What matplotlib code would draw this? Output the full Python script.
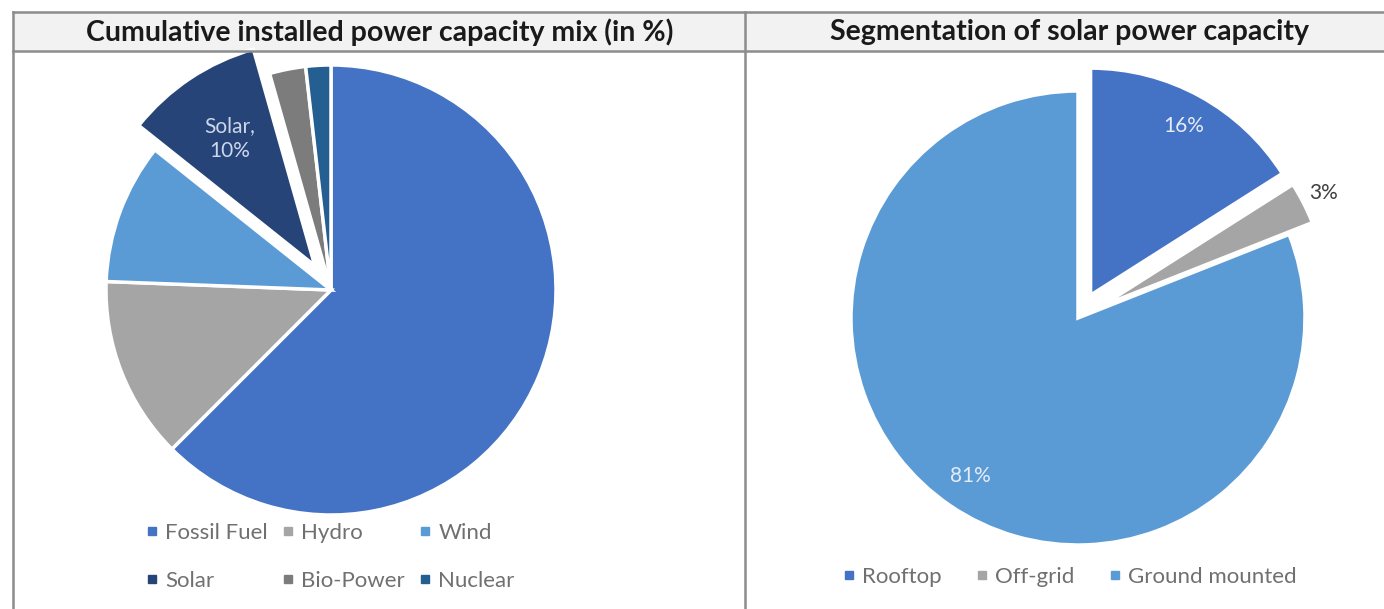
import matplotlib.pyplot as plt
from matplotlib.lines import Line2D
from matplotlib.patches import Rectangle
import numpy as np

# left pie: installed capacity mix (%)
mix_labels = ["Fossil Fuel", "Hydro", "Wind", "Solar", "Bio-Power", "Nuclear"]
mix_values = [62.5, 13.1, 10.1, 9.9, 2.6, 1.8]
mix_colors = ["#4472C4", "#A5A5A5", "#5B9BD5", "#264478", "#7C7C7C", "#255E91"]

# right pie: solar segmentation (%)
solar_labels = ["Rooftop", "Off-grid", "Ground mounted"]
solar_values = [16, 3, 81]
solar_colors = ["#4472C4", "#A5A5A5", "#5B9BD5"]

W, H = 1384, 609
plt.rcParams['font.family'] = ['Lato', 'DejaVu Sans']

fig = plt.figure(figsize=(W / 100, H / 100), dpi=100)
ax = fig.add_axes([0, 0, 1, 1])


def py(y):
    # pixel row (from top) -> data y
    return H - y


# frame + title bars
ax.add_patch(Rectangle((13, py(51)), W, 39, facecolor='#F2F2F2', edgecolor='none', zorder=0))
line_kw = dict(color='#8C8C8C', lw=1.8, zorder=5)
ax.plot([13, W], [py(12), py(12)], **line_kw)
ax.plot([13, W], [py(51), py(51)], **line_kw)
ax.plot([13, 13], [py(12), 0], **line_kw)
ax.plot([745, 745], [py(12), 0], **line_kw)

ax.text(380, py(32), "Cumulative installed power capacity mix (in %)", ha='center', va='center',
        fontsize=20.5, fontweight='bold', color='#1A1A1A')
ax.text(1070, py(32), "Segmentation of solar power capacity", ha='center', va='center',
        fontsize=20.5, fontweight='bold', color='#1A1A1A')

wedge_kw = dict(edgecolor='white', linewidth=2.5)

# left pie (explode is in data units, so scale by radius)
r1 = 225
w1, _ = ax.pie(mix_values, colors=mix_colors, startangle=90, counterclock=False,
               explode=[0, 0, 0, 0.13 * r1, 0, 0], center=(331, py(290)), radius=r1,
               wedgeprops=wedge_kw, frame=True)
sw = w1[3]
ang = np.deg2rad((sw.theta1 + sw.theta2) / 2)
cx, cy = sw.center
ax.text(cx + 0.68 * r1 * np.cos(ang), cy + 0.68 * r1 * np.sin(ang),
        f"{mix_labels[3]},\n{mix_values[3]:.0f}%", ha='center', va='center',
        fontsize=15, color='#CDD6EA', linespacing=1.3)

# right pie
r2 = 227
w2, _ = ax.pie(solar_values, colors=solar_colors, startangle=90, counterclock=False,
               explode=[0.115 * r2, 0.115 * r2, 0], center=(1078, py(318)), radius=r2,
               wedgeprops=wedge_kw, frame=True)
label_dist = [0.85, 1.1, 0.84]
label_col = ['#E6ECF7', '#404040', '#E6ECF7']
for w, v, d, c in zip(w2, solar_values, label_dist, label_col):
    a = np.deg2rad((w.theta1 + w.theta2) / 2)
    x0, y0 = w.center
    ax.text(x0 + d * r2 * np.cos(a), y0 + d * r2 * np.sin(a), f"{v}%",
            ha='center', va='center', fontsize=15, color=c)

ax.set_xlim(0, W)
ax.set_ylim(0, H)
ax.set_aspect('equal')
ax.axis('off')


def handle(c, lab):
    return Line2D([], [], marker='s', ms=6, ls='none', color=c, label=lab)


# legends, row-major order
h1 = [handle(c, l) for c, l in zip(mix_colors, mix_labels)]
order = [0, 3, 1, 4, 2, 5]
leg1 = ax.legend([h1[i] for i in order], [mix_labels[i] for i in order], ncol=3,
                 loc='upper left', bbox_to_anchor=(143, py(523)), bbox_transform=ax.transData,
                 frameon=False, fontsize=16, handletextpad=0.2, columnspacing=0.5,
                 labelspacing=1.25, handlelength=0.8, borderaxespad=0, borderpad=0)
for t in leg1.get_texts():
    t.set_color('#707070')
ax.add_artist(leg1)

h2 = [handle(c, l) for c, l in zip(solar_colors, solar_labels)]
leg2 = ax.legend(handles=h2, ncol=3, loc='upper left', bbox_to_anchor=(840, py(567)),
                 bbox_transform=ax.transData, frameon=False, fontsize=16,
                 handletextpad=0.2, columnspacing=1.4, handlelength=0.8,
                 borderaxespad=0, borderpad=0)
for t in leg2.get_texts():
    t.set_color('#707070')

fig.savefig("out.png", dpi=100)
